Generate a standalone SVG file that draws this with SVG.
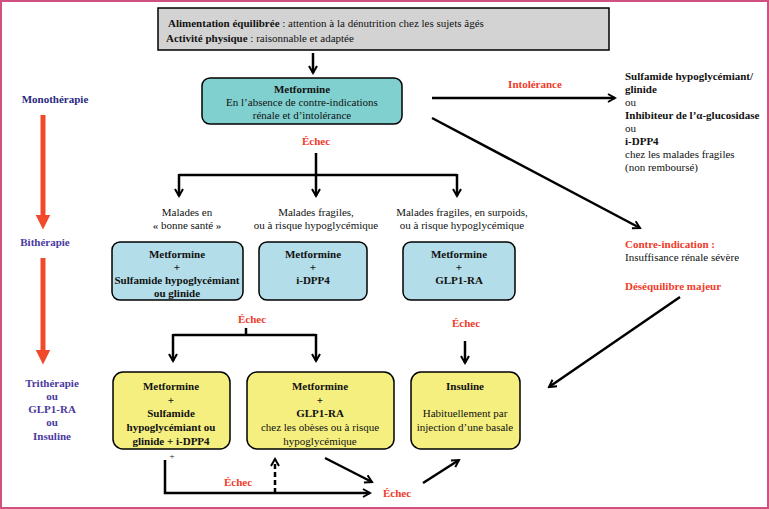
<svg xmlns="http://www.w3.org/2000/svg" width="769" height="509" viewBox="0 0 769 509" font-family="Liberation Serif, Times New Roman, serif" font-size="11">
<defs>
<marker id="ah" viewBox="0 0 10 10" refX="8" refY="5" markerWidth="4" markerHeight="4" orient="auto"><path d="M1,1 L8,5 L1,9" fill="none" stroke="#000" stroke-width="2"/></marker>
<marker id="rh" viewBox="0 0 10 10" refX="5" refY="5" markerWidth="3" markerHeight="3" orient="auto"><path d="M0,0 L10,5 L0,10 Z" fill="#f04a2a"/></marker>
</defs>
<style>
text{font-family:'Liberation Serif','Times New Roman',serif;font-size:11px;fill:#111}
.c{text-anchor:middle}
.b{font-weight:bold}
.r{fill:#f03a2a;font-weight:bold}
.n{fill:#2a2a80;font-weight:bold}
.p{fill:#4a3aa0;font-weight:bold}
.box{stroke:#000;stroke-width:1.5}
.ln{fill:none;stroke:#000;stroke-width:2.5}
</style>
<rect x="1" y="1" width="767" height="507" fill="#fff" stroke="#d05080" stroke-width="2"/>
<g id="labels">
<text x="55" y="103" class="c n">Monothérapie</text>
<text x="45" y="246" class="c p">Bithérapie</text>
<text x="52" y="387" class="c p">Trithérapie</text>
<text x="52" y="400" class="c p">ou</text>
<text x="52" y="413" class="c p">GLP1-RA</text>
<text x="52" y="426" class="c p">ou</text>
<text x="52" y="440" class="c p">Insuline</text>
<text x="535" y="88" class="c r">Intolérance</text>
<text x="316" y="145" class="c r">Échec</text>
<text x="252" y="323" class="c r">Échec</text>
<text x="466" y="327" class="c r">Échec</text>
<text x="238" y="486" class="c r">Échec</text>
<text x="397" y="497" class="c r">Échec</text>
<text x="187" y="216" class="c">Malades en</text>
<text x="187" y="229" class="c">« bonne santé »</text>
<text x="316" y="216" class="c">Malades fragiles,</text>
<text x="316" y="229" class="c">ou à risque hypoglycémique</text>
<text x="462" y="216" class="c">Malades fragiles, en surpoids,</text>
<text x="462" y="229" class="c">ou à risque hypoglycémique</text>
<text x="625" y="80" class="b">Sulfamide hypoglycémiant/</text>
<text x="625" y="93" class="b">glinide</text>
<text x="625" y="106">ou</text>
<text x="625" y="119" class="b">Inhibiteur de l’α-glucosidase</text>
<text x="625" y="132">ou</text>
<text x="625" y="145" class="b">i-DPP4</text>
<text x="625" y="158">chez les malades fragiles</text>
<text x="625" y="171">(non remboursé)</text>
<text x="625" y="248" class="r">Contre-indication :</text>
<text x="625" y="261">Insuffisance rénale sévère</text>
<text x="625" y="290" class="r">Déséquilibre majeur</text>
<text x="172" y="459" class="c" style="font-size:9px">+</text>
</g>
<g id="top">
<rect x="158" y="8" width="451" height="42" fill="#d3d3d3" class="box"/>
<text x="168" y="27"><tspan class="b">Alimentation équilibrée</tspan> : attention à la dénutrition chez les sujets âgés</text>
<text x="166" y="42"><tspan class="b">Activité physique</tspan> : raisonnable et adaptée</text>
</g>
<g id="metformine">
<rect x="202" y="78" width="200" height="46" rx="8" fill="#80d0d0" class="box"/>
<text x="302" y="93" class="c b">Metformine</text>
<text x="302" y="106" class="c">En l’absence de contre-indications</text>
<text x="302" y="119" class="c">rénale et d’intolérance</text>
</g>
<g id="bi1"><rect x="112" y="242" width="131" height="58" rx="8" fill="#b3dde8" class="box"/>
<text x="177" y="258" class="c b">Metformine</text><text x="177" y="271" class="c b">+</text><text x="177" y="284" class="c b">Sulfamide hypoglycémiant</text><text x="177" y="297" class="c b">ou glinide</text></g>
<g id="bi2"><rect x="259" y="242" width="108" height="58" rx="8" fill="#b3dde8" class="box"/>
<text x="313" y="258" class="c b">Metformine</text><text x="313" y="271" class="c b">+</text><text x="313" y="284" class="c b">i-DPP4</text></g>
<g id="bi3"><rect x="403" y="242" width="112" height="58" rx="8" fill="#b3dde8" class="box"/>
<text x="459" y="258" class="c b">Metformine</text><text x="459" y="271" class="c b">+</text><text x="459" y="284" class="c b">GLP1-RA</text></g>
<g id="tri1"><rect x="113" y="372" width="117" height="77" rx="10" fill="#f5ef80" class="box"/>
<text x="171" y="390" class="c b">Metformine</text><text x="171" y="404" class="c b">+</text><text x="171" y="417" class="c b">Sulfamide</text><text x="171" y="431" class="c b">hypoglycémiant ou</text><text x="171" y="445" class="c b">glinide + i-DPP4</text></g>
<g id="tri2"><rect x="247" y="372" width="147" height="77" rx="10" fill="#f5ef80" class="box"/>
<text x="320" y="390" class="c b">Metformine</text><text x="320" y="404" class="c b">+</text><text x="320" y="417" class="c b">GLP1-RA</text><text x="320" y="431" class="c">chez les obèses ou à risque</text><text x="320" y="445" class="c">hypoglycémique</text></g>
<g id="insuline"><rect x="411" y="372" width="109" height="77" rx="10" fill="#f5ef80" class="box"/>
<text x="465" y="390" class="c b">Insuline</text><text x="465" y="417" class="c">Habituellement par</text><text x="465" y="431" class="c">injection d’une basale</text></g>
<g id="connectors">
<line x1="43" y1="115" x2="43" y2="222" stroke="#f04a2a" stroke-width="5" marker-end="url(#rh)"/>
<line x1="43" y1="258" x2="43" y2="357" stroke="#f04a2a" stroke-width="5" marker-end="url(#rh)"/>
<line x1="313" y1="53" x2="313" y2="73" class="ln" marker-end="url(#ah)"/>
<line x1="432" y1="98" x2="615" y2="98" class="ln" marker-end="url(#ah)"/>
<line x1="432" y1="118" x2="640" y2="228" class="ln" marker-end="url(#ah)"/>
<path d="M316,153 V175 M179,175 H457" class="ln"/>
<line x1="179" y1="174" x2="179" y2="196" class="ln" marker-end="url(#ah)"/>
<line x1="316" y1="174" x2="316" y2="196" class="ln" marker-end="url(#ah)"/>
<line x1="457" y1="174" x2="457" y2="196" class="ln" marker-end="url(#ah)"/>
<path d="M246,328 V335 M173,335 H316" class="ln"/>
<line x1="173" y1="334" x2="173" y2="361" class="ln" marker-end="url(#ah)"/>
<line x1="316" y1="334" x2="316" y2="361" class="ln" marker-end="url(#ah)"/>
<line x1="465" y1="341" x2="465" y2="363" class="ln" marker-end="url(#ah)"/>
<line x1="680" y1="297" x2="549" y2="387" class="ln" marker-end="url(#ah)"/>
<path d="M165,460 V493 H370" class="ln" marker-end="url(#ah)"/>
<line x1="275" y1="493" x2="275" y2="459" class="ln" stroke-dasharray="5,3" marker-end="url(#ah)"/>
<line x1="325" y1="458" x2="372" y2="482" class="ln" marker-end="url(#ah)"/>
<line x1="423" y1="483" x2="459" y2="460" class="ln" marker-end="url(#ah)"/>
</g>
</svg>
